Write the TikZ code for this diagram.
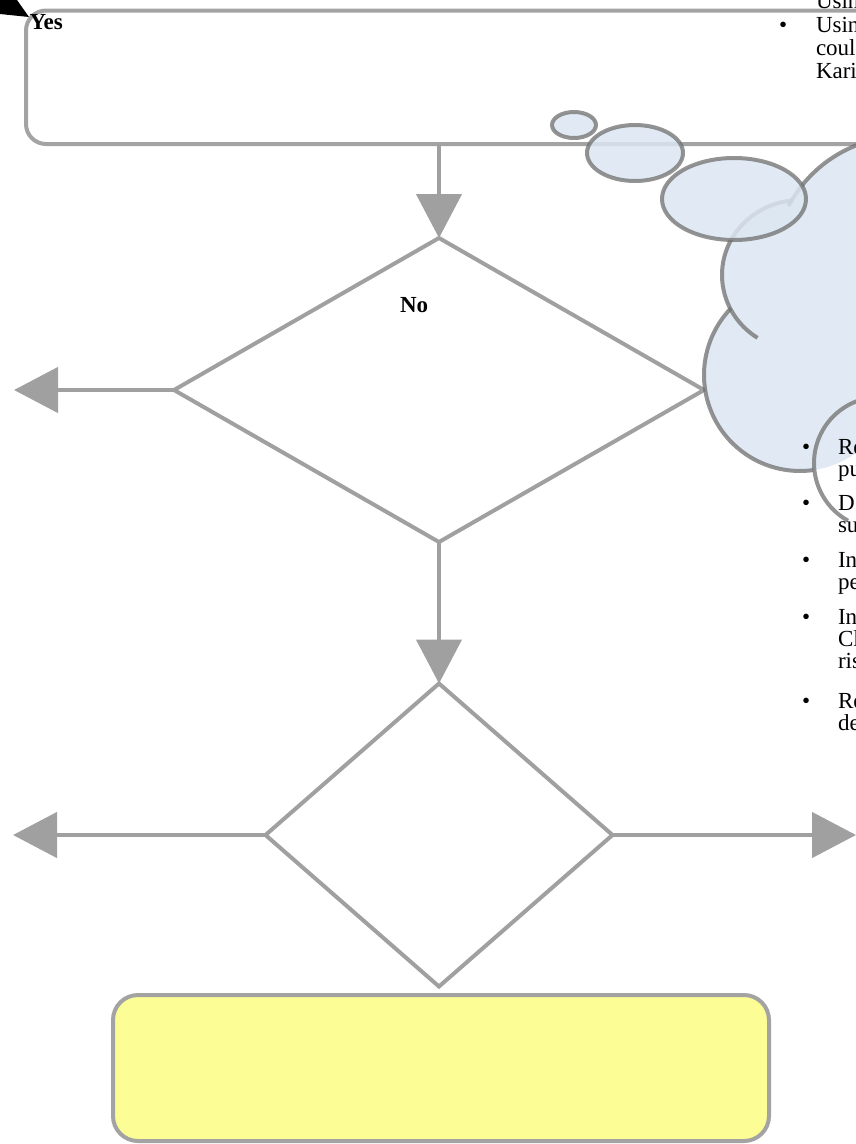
\documentclass[tikz,border=0pt]{standalone}
\usepackage{fontspec}
\setmainfont{Liberation Serif}
\usetikzlibrary{shapes.geometric,arrows.meta}
\definecolor{lgray}{HTML}{A3A3A3}
\definecolor{agray}{HTML}{A0A0A0}
\definecolor{cloudfill}{HTML}{DCE6F2}
\definecolor{cloudline}{HTML}{6F6F6F}
\definecolor{boxyellow}{HTML}{FDFD96}
\begin{document}
\begin{tikzpicture}[x=1pt,y=1pt,
  box/.style={draw=lgray,line width=4pt,rounded corners=20pt,inner sep=0pt,outer sep=0pt},
  decision/.style={diamond,draw=agray,line width=4pt,inner sep=0pt,outer sep=0pt},
  flow/.style={draw=agray,line width=4.5pt,-{Triangle[length=44pt,width=45pt]}},
  bubble/.style={draw=cloudline,draw opacity=0.75,line width=4pt,fill=cloudfill,fill opacity=0.85},
  cloudstroke/.style={draw=cloudline,draw opacity=0.75,line width=4pt},
  lbl/.style={font=\fontsize{23}{25}\selectfont,inner sep=0pt,outer sep=0pt,anchor=base west},
  blbl/.style={lbl,font=\fontsize{23}{25}\selectfont\bfseries},
]
\useasboundingbox (0,0) rectangle (856,-1144);

% boxes and decisions
\node[box,minimum width=974pt,minimum height=133.5pt] (topbox) at (513,-77.25) {};
\node[decision,minimum width=530pt,minimum height=304pt] (d1) at (439,-390) {};
\node[decision,minimum width=347pt,minimum height=303pt] (d2) at (439,-835) {};
\node[box,fill=boxyellow,rounded corners=25pt,minimum width=656pt,minimum height=146pt] (endbox) at (441,-1068) {};

% connectors
\coordinate (l1) at (14,-390);
\coordinate (l2) at (13,-835);
\coordinate (r2) at (856,-835);
\draw[flow] (d1.north |- topbox.south) -- (d1.north);
\draw[flow] (d1.west) -- (l1);
\draw[flow] (d1.south) -- (d2.north);
\draw[flow] (d2.west) -- (l2);
\draw[flow] (d2.east) -- (r2);

% black wedge top left
\fill[black] (0,0) -- (17,0) -- (29,-17) -- (0,-14) -- cycle;

% thought bubbles
\draw[bubble] (574,-125) ellipse[x radius=22,y radius=13];
\draw[bubble] (635,-153) ellipse[x radius=48,y radius=28];

% cloud body
\fill[cloudfill,fill opacity=0.85]
  ([shift={(905,-268)}]150:132) arc[start angle=150,end angle=20,radius=132]
  -- (1029,-440)
  -- ([shift={(800,-375)}]318:96) arc[start angle=318,end angle=136,radius=96]
  -- ([shift={(800,-275)}]206.4:78 and 75) arc[start angle=206.4,end angle=95,x radius=78,y radius=75]
  -- cycle;
\draw[cloudstroke] ([shift={(905,-268)}]152:132) arc[start angle=152,end angle=20,radius=132];
\draw[cloudstroke] ([shift={(800,-275)}]95:78 and 75) arc[start angle=95,end angle=237,x radius=78,y radius=75];
\draw[cloudstroke] ([shift={(800,-375)}]136:96) arc[start angle=136,end angle=278,radius=96];
\draw[cloudstroke] ([shift={(880,-463)}]60:66) arc[start angle=60,end angle=241,radius=66];

\draw[bubble] (734,-199) ellipse[x radius=72,y radius=41];

% texts
\node[blbl] (yes) at (29.5,-29) {Yes};
\node[blbl] (no) at (400,-312) {No};

\node[lbl] (t0) at (816,-8) {Usin};
\node[lbl] (b1) at (779,-32) {•};
\node[lbl] (t1) at (816,-32) {Usin};
\node[lbl] (t2) at (816,-55) {coul};
\node[lbl] (t3) at (816,-78) {Kari};

\node[lbl] (c1) at (802,-454) {•};
\node[lbl] (s1) at (838,-454) {Re};
\node[lbl] (s2) at (838,-476) {pu};
\node[lbl] (c2) at (802,-510) {•};
\node[lbl] (s3) at (838,-510) {D};
\node[lbl] (s4) at (838,-532) {su};
\node[lbl] (c3) at (802,-567) {•};
\node[lbl] (s5) at (838,-567) {In};
\node[lbl] (s6) at (838,-589) {pe};
\node[lbl] (c4) at (802,-624) {•};
\node[lbl] (s7) at (838,-624) {In};
\node[lbl] (s8) at (838,-646) {Cl};
\node[lbl] (s9) at (838,-668) {ris};
\node[lbl] (c5) at (802,-708) {•};
\node[lbl] (s10) at (838,-708) {Re};
\node[lbl] (s11) at (838,-730) {de};
\end{tikzpicture}
\end{document}
